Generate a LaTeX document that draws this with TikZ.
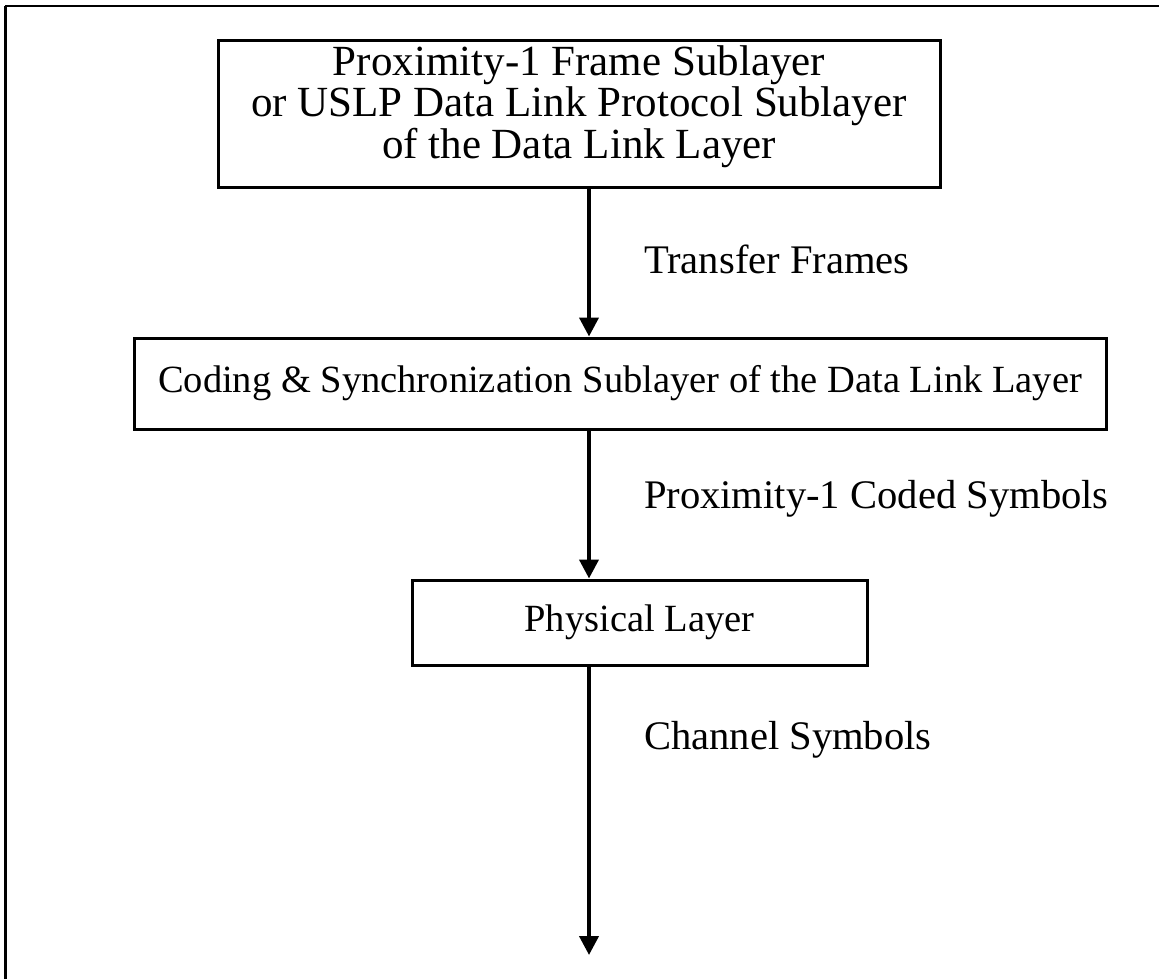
\documentclass[tikz,border=0pt]{standalone}
\usepackage{fontspec}
\setmainfont{Liberation Serif}
\usetikzlibrary{arrows.meta}

\begin{document}
\begin{tikzpicture}[x=0.5pt, y=-0.5pt,
  layer/.style={draw, line width=1.5pt, align=center, inner sep=0pt,
    font=\fontsize{19.25}{18.75}\selectfont},
  lbl/.style={anchor=west, inner sep=0pt, xshift=26.5pt,
    font=\fontsize{20.3}{20}\selectfont},
  flow/.style={line width=2pt, -{Triangle[width=9.5pt,length=9.5pt]}}]
  \useasboundingbox (0,0) rectangle (1159,979);
  % outer frame (left and top edges only)
  \coordinate (fbl) at (5,979);
  \coordinate (ftl) at (5,6);
  \coordinate (ftr) at (1159,6);
  \draw [line width=1.5pt] (fbl) -- (ftl);
  \draw [line width=1pt] (ftl) -- (ftr);
  % layers
  \node [layer, minimum width=361pt, minimum height=73pt, text depth=12.2pt,
    font=\fontsize{21.5}{18.75}\selectfont] (frame) at (579,114)
    {Proximity-1 Frame Sublayer\\or USLP Data Link Protocol Sublayer\\of the Data Link Layer};
  \node [layer, minimum width=486pt, minimum height=45.5pt] (coding) at (620,383.5)
    {Coding \& Synchronization Sublayer of the Data Link Layer};
  \node [layer, minimum width=227.5pt, minimum height=42.5pt] (phys) at (639.5,622.5)
    {Physical Layer};
  \coordinate (out) at (589,955);
  % flows
  \path (frame.south -| out) edge [flow] node [lbl, pos=0.48] {Transfer Frames} (coding.north -| out);
  \path (coding.south -| out) edge [flow] node [lbl, pos=0.46] {Proximity-1 Coded Symbols} (phys.north -| out);
  \path (phys.south -| out) edge [flow] node [lbl, pos=0.255] {Channel Symbols} (out);
\end{tikzpicture}
\end{document}
